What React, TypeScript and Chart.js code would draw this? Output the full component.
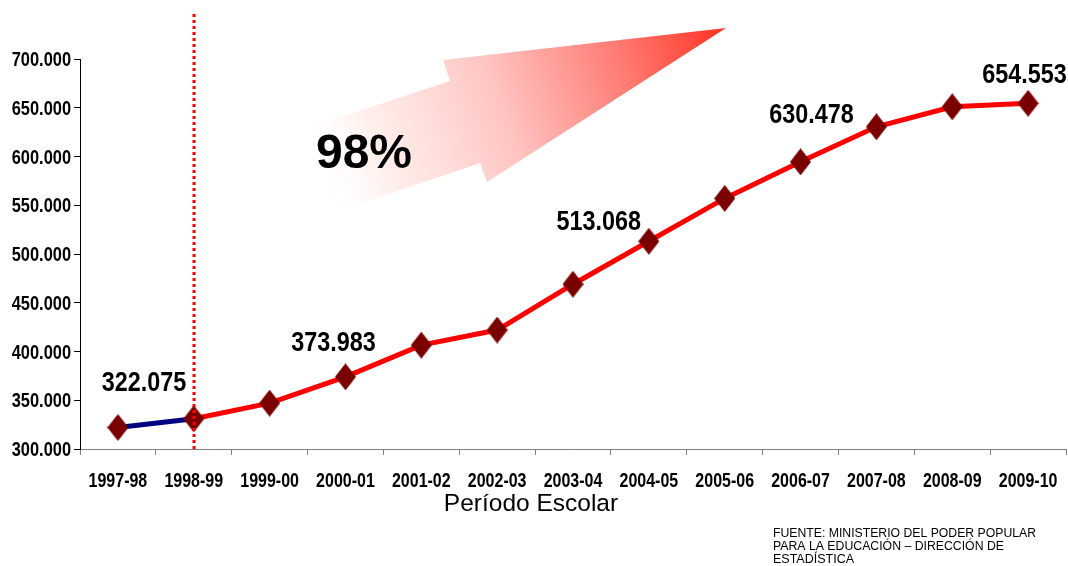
import React, { useEffect, useRef } from 'react';
import { Chart, registerables } from 'chart.js';

Chart.register(...registerables);

const categories = ['1997-98', '1998-99', '1999-00', '2000-01', '2001-02', '2002-03', '2003-04', '2004-05', '2005-06', '2006-07', '2007-08', '2008-09', '2009-10'];
const enrollment = [322075, 331000, 347000, 373983, 406500, 422000, 469000, 513068, 557000, 594500, 630478, 651000, 654553];
const labeledIndices = [0, 3, 7, 10, 12];
const yTicks = { min: 300000, max: 700000, step: 50000 };
const growthText = '98%';
const xTitle = 'Período Escolar';
const sourceLines = ['FUENTE: MINISTERIO DEL PODER POPULAR', 'PARA LA EDUCACIÓN – DIRECCIÓN DE', 'ESTADÍSTICA'];

const ARIAL = "'Liberation Sans', Arial, sans-serif";
const NARROW_SCALE = 0.82;

// label offsets from the marker (layout, not data)
const labelOffsets: Record<number, [number, number]> = {
  0: [26, -47],
  3: [-12, -36],
  7: [-50, -22],
  10: [-65, -14],
  12: [-3.5, -31],
};

function fmt(v: number): string {
  return Math.round(v).toString().replace(/\B(?=(\d{3})+(?!\d))/g, '.');
}

function narrowText(ctx: CanvasRenderingContext2D, text: string, x: number, y: number, size: number, align: CanvasTextAlign) {
  ctx.save();
  ctx.translate(x, y);
  ctx.scale(NARROW_SCALE, 1);
  ctx.font = `bold ${size}px ${ARIAL}`;
  ctx.textAlign = align;
  ctx.textBaseline = 'alphabetic';
  ctx.fillText(text, 0, 0);
  ctx.restore();
}

function makeDiamond(): HTMLCanvasElement {
  const c = document.createElement('canvas');
  const w = 21, h = 27;
  c.width = w; c.height = h;
  const g = c.getContext('2d')!;
  g.fillStyle = '#7a0000';
  g.beginPath();
  g.moveTo(w / 2, 0);
  g.lineTo(w, h / 2);
  g.lineTo(w / 2, h);
  g.lineTo(0, h / 2);
  g.closePath();
  g.fill();
  return c;
}

const overlayPlugin = {
  id: 'overlay',
  beforeDatasetsDraw(chart: any) {
    const ctx = chart.ctx as CanvasRenderingContext2D;
    ctx.save();
    const pts: [number, number][] = [
      [726, 28], [443, 60], [450, 81], [310, 127], [336, 212], [480, 163], [487, 182],
    ];
    const grad = ctx.createLinearGradient(315, 170, 726, 28);
    grad.addColorStop(0, 'rgba(255,255,255,0)');
    grad.addColorStop(0.15, 'rgba(255,235,230,0.8)');
    grad.addColorStop(0.45, '#ffc4c2');
    grad.addColorStop(0.75, '#ff7a72');
    grad.addColorStop(1, '#ff3222');
    ctx.fillStyle = grad;
    ctx.beginPath();
    pts.forEach((p, i) => (i === 0 ? ctx.moveTo(p[0], p[1]) : ctx.lineTo(p[0], p[1])));
    ctx.closePath();
    ctx.fill();
    ctx.restore();
  },
  afterDatasetsDraw(chart: any) {
    const ctx = chart.ctx as CanvasRenderingContext2D;
    const xs = chart.scales.x;
    const ys = chart.scales.y;
    ctx.save();
    // dotted vertical line at 1998-99
    const vx = Math.round(xs.getPixelForValue(1));
    ctx.strokeStyle = '#ff0000';
    ctx.lineWidth = 3;
    ctx.setLineDash([3, 3]);
    ctx.beginPath();
    ctx.moveTo(vx, 14);
    ctx.lineTo(vx, chart.chartArea.bottom);
    ctx.stroke();
    ctx.setLineDash([]);

    ctx.fillStyle = '#000';

    // tick labels (narrow bold)
    categories.forEach((c, i) => {
      narrowText(ctx, c, xs.getPixelForValue(i), 487, 19.5, 'center');
    });
    ys.ticks.forEach((t: any) => {
      const y = ys.getPixelForValue(t.value);
      narrowText(ctx, fmt(t.value), 71, y + 7, 20, 'right');
    });

    // value labels
    const size = 28.5;
    labeledIndices.forEach((i) => {
      const px = xs.getPixelForValue(i);
      const py = ys.getPixelForValue(enrollment[i]);
      const [dx, dy] = labelOffsets[i];
      narrowText(ctx, fmt(enrollment[i]), px + dx, py + dy + size * 0.36, size, 'center');
    });

    // axis title
    ctx.textAlign = 'center';
    ctx.textBaseline = 'alphabetic';
    ctx.font = `24.5px ${ARIAL}`;
    ctx.fillText(xTitle, 531, 511);

    // 98%
    ctx.font = `bold 48px ${ARIAL}`;
    ctx.fillText(growthText, 364, 168);

    // source
    ctx.textAlign = 'left';
    ctx.font = `12.5px ${ARIAL}`;
    const widths = [263, 231, 81];
    sourceLines.forEach((t, i) => {
      ctx.fillText(t, 773, 537 + i * 13, widths[i]);
    });
    ctx.restore();
  },
};

export default function App() {
  const ref = useRef<HTMLCanvasElement>(null);
  useEffect(() => {
    if (!ref.current) return;
    const diamond = makeDiamond();
    const chart = new Chart(ref.current, {
      type: 'line',
      data: {
        labels: categories,
        datasets: [
          {
            data: enrollment,
            borderColor: '#ff0000',
            borderWidth: 5,
            segment: {
              borderColor: (c: any) => (c.p0DataIndex === 0 ? '#000080' : '#ff0000'),
            },
            pointStyle: diamond as any,
            pointRadius: 13,
            pointHoverRadius: 13,
            tension: 0,
            fill: false,
            clip: false as any,
          },
        ],
      },
      options: {
        responsive: false,
        animation: false,
        layout: { autoPadding: false, padding: { top: 59, right: 2, left: 0, bottom: 0 } },
        plugins: { legend: { display: false }, tooltip: { enabled: false } },
        scales: {
          x: {
            type: 'category',
            offset: true,
            grid: { display: true, drawOnChartArea: false, offset: true, tickLength: 6, color: '#808080' },
            border: { color: '#808080', width: 1 },
            ticks: { display: false, autoSkip: false, maxRotation: 0 },
            afterFit: (s: any) => {
              s.height = 117;
            },
          },
          y: {
            min: yTicks.min,
            max: yTicks.max,
            grid: { display: true, drawOnChartArea: false, tickLength: 6, color: '#000' },
            border: { color: '#000', width: 1 },
            ticks: { display: false, stepSize: yTicks.step },
            afterFit: (s: any) => {
              s.width = 80;
            },
          },
        },
      },
      plugins: [overlayPlugin],
    });
    return () => chart.destroy();
  }, []);
  return (
    <div style={{ position: 'absolute', left: 0, top: 0, width: 1068, height: 566, background: '#fff' }}>
      <canvas ref={ref} width={1068} height={566} style={{ width: 1068, height: 566, display: 'block' }} />
    </div>
  );
}
